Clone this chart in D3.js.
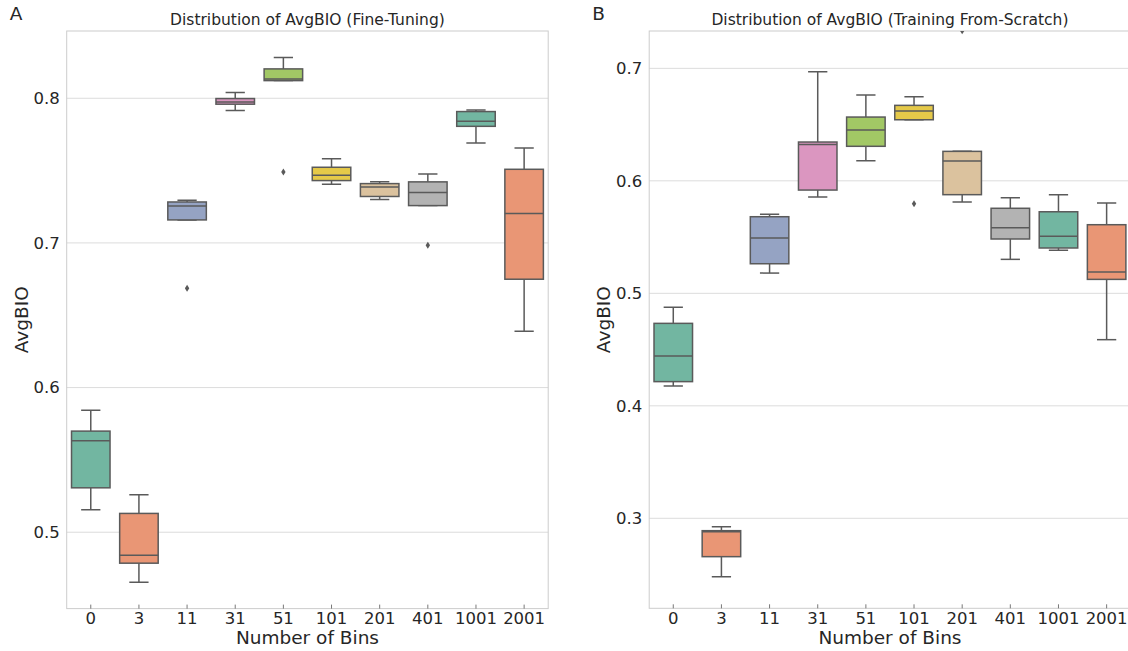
<!DOCTYPE html>
<html>
<head>
<meta charset="utf-8">
<script src="https://cdn.jsdelivr.net/npm/d3@7"></script>
<style>
  body { margin: 0; background: #fff; }
  svg { font-family: "DejaVu Sans", sans-serif; display: block; }
</style>
</head>
<body>
<svg class="fig" width="1128" height="651"></svg>
<script>
var bins = ["0", "3", "11", "31", "51", "101", "201", "401", "1001", "2001"];
var palette = ["#66c2a5", "#fc8d62", "#8da0cb", "#e78ac3", "#a6d854", "#ffd92f", "#e5c494", "#b3b3b3", "#66c2a5", "#fc8d62"];

// fine-tuning: whisker low, q1, median, q3, whisker high
var ftLow  = [0.5155, 0.4655, 0.7159, 0.7915, 0.8122, 0.7406, 0.7300, 0.7258, 0.7691, 0.6390];
var ftQ1   = [0.5307, 0.4786, 0.7159, 0.7959, 0.8122, 0.7431, 0.7321, 0.7258, 0.7806, 0.6749];
var ftMed  = [0.5632, 0.4840, 0.7256, 0.7975, 0.8133, 0.7468, 0.7387, 0.7348, 0.7841, 0.7203];
var ftQ3   = [0.5699, 0.5130, 0.7283, 0.7998, 0.8203, 0.7523, 0.7410, 0.7422, 0.7908, 0.7509];
var ftHigh = [0.5844, 0.5259, 0.7295, 0.8039, 0.8281, 0.7581, 0.7422, 0.7477, 0.7919, 0.7657];
var ftOutliers = [["11", 0.6687], ["51", 0.7491], ["401", 0.6984]];

// training from scratch
var fsLow  = [0.4176, 0.2481, 0.5180, 0.5856, 0.6179, 0.6543, 0.5812, 0.5302, 0.5382, 0.4588];
var fsQ1   = [0.4215, 0.2659, 0.5263, 0.5918, 0.6307, 0.6543, 0.5877, 0.5483, 0.5403, 0.5124];
var fsMed  = [0.4443, 0.2881, 0.5492, 0.6324, 0.6452, 0.6620, 0.6176, 0.5583, 0.5507, 0.5189];
var fsQ3   = [0.4733, 0.2890, 0.5681, 0.6345, 0.6567, 0.6671, 0.6262, 0.5756, 0.5725, 0.5610];
var fsHigh = [0.4876, 0.2925, 0.5702, 0.6970, 0.6763, 0.6748, 0.6262, 0.5850, 0.5877, 0.5803];
var fsOutliers = [["101", 0.5796], ["201", 0.7334]];

var ftTicks = [0.5, 0.6, 0.7, 0.8];
var fsTicks = [0.3, 0.4, 0.5, 0.6, 0.7];

var svg = d3.select(".fig");
var lineCol = "#5a5a5a", textCol = "#262626";

function desat(c) {
  var h = d3.hsl(c);
  h.s = h.s * 0.75;
  return h.formatHex();
}

function panel(o) {
  var x = d3.scaleBand().domain(bins).range([o.x0, o.x1]);
  var y = d3.scaleLinear().domain(o.ydom).range([o.y1, o.y0]);
  var g = svg.append("g");
  var id = "clip" + o.letter;

  g.append("clipPath").attr("id", id).append("rect")
    .attr("x", o.x0).attr("y", o.y0).attr("width", o.x1 - o.x0).attr("height", o.y1 - o.y0);

  // grid
  g.selectAll(".grid").data(o.ticks).enter().append("line")
    .attr("x1", o.x0).attr("x2", o.x1)
    .attr("y1", function(d) { return y(d); }).attr("y2", function(d) { return y(d); })
    .attr("stroke", "#dcdcdc").attr("stroke-width", 1);

  // spines
  g.append("rect").attr("x", o.x0).attr("y", o.y0)
    .attr("width", o.x1 - o.x0).attr("height", o.y1 - o.y0)
    .attr("fill", "none").attr("stroke", "#cccccc").attr("stroke-width", 1);

  // y tick labels
  g.selectAll(".ytl").data(o.ticks).enter().append("text")
    .attr("x", o.x0 - 7).attr("y", function(d) { return y(d); })
    .attr("dy", "0.35em").attr("text-anchor", "end")
    .attr("font-size", 16.5).attr("fill", textCol)
    .text(function(d) { return d3.format(".1f")(d); });

  // x ticks + labels
  var xa = g.append("g");
  xa.selectAll("line").data(bins).enter().append("line")
    .attr("x1", function(d) { return x(d) + x.bandwidth() / 2; })
    .attr("x2", function(d) { return x(d) + x.bandwidth() / 2; })
    .attr("y1", o.y1 - 4).attr("y2", o.y1)
    .attr("stroke", "#555").attr("stroke-width", 0.8);
  xa.selectAll("text").data(bins).enter().append("text")
    .attr("x", function(d) { return x(d) + x.bandwidth() / 2; })
    .attr("y", 618).attr("dy", "0.35em")
    .attr("text-anchor", "middle").attr("font-size", 16.5).attr("fill", textCol)
    .text(String);

  var rows = bins.map(function(b, i) {
    return { bin: b, lo: o.lo[i], q1: o.q1[i], med: o.med[i], q3: o.q3[i], hi: o.hi[i], col: desat(palette[i]) };
  });

  var marks = g.append("g").attr("clip-path", "url(#" + id + ")");
  var bw = x.bandwidth() * 0.8;
  var box = marks.selectAll(".box").data(rows).enter().append("g")
    .attr("transform", function(d) { return "translate(" + (x(d.bin) + x.bandwidth() / 2) + ",0)"; });

  box.append("line").attr("x1", 0).attr("x2", 0)
    .attr("y1", function(d) { return y(d.hi); }).attr("y2", function(d) { return y(d.q3); })
    .attr("stroke", lineCol).attr("stroke-width", 1.5);
  box.append("line").attr("x1", 0).attr("x2", 0)
    .attr("y1", function(d) { return y(d.q1); }).attr("y2", function(d) { return y(d.lo); })
    .attr("stroke", lineCol).attr("stroke-width", 1.5);
  box.append("line").attr("x1", -bw / 4).attr("x2", bw / 4)
    .attr("y1", function(d) { return y(d.hi); }).attr("y2", function(d) { return y(d.hi); })
    .attr("stroke", lineCol).attr("stroke-width", 1.5);
  box.append("line").attr("x1", -bw / 4).attr("x2", bw / 4)
    .attr("y1", function(d) { return y(d.lo); }).attr("y2", function(d) { return y(d.lo); })
    .attr("stroke", lineCol).attr("stroke-width", 1.5);
  box.append("rect").attr("x", -bw / 2).attr("width", bw)
    .attr("y", function(d) { return y(d.q3); })
    .attr("height", function(d) { return y(d.q1) - y(d.q3); })
    .attr("fill", function(d) { return d.col; })
    .attr("stroke", lineCol).attr("stroke-width", 1.5);
  box.append("line").attr("x1", -bw / 2).attr("x2", bw / 2)
    .attr("y1", function(d) { return y(d.med); }).attr("y2", function(d) { return y(d.med); })
    .attr("stroke", lineCol).attr("stroke-width", 1.5);

  // outliers (thin diamonds)
  marks.selectAll(".fl").data(o.out).enter().append("path")
    .attr("transform", function(d) { return "translate(" + (x(d[0]) + x.bandwidth() / 2) + "," + y(d[1]) + ")"; })
    .attr("d", "M0,-3.5L2.2,0L0,3.5L-2.2,0Z")
    .attr("fill", lineCol);

  // titles and labels
  g.append("text").attr("x", (o.x0 + o.x1) / 2).attr("y", 25)
    .attr("text-anchor", "middle").attr("font-size", 15.5).attr("fill", textCol)
    .text(o.title);
  g.append("text").attr("x", (o.x0 + o.x1) / 2).attr("y", 644)
    .attr("text-anchor", "middle").attr("font-size", 18.5).attr("fill", textCol)
    .text("Number of Bins");
  g.append("text")
    .attr("transform", "translate(" + (o.x0 - 39) + "," + ((o.y0 + o.y1) / 2) + ") rotate(-90)")
    .attr("text-anchor", "middle").attr("font-size", 18.5).attr("fill", textCol)
    .text("AvgBIO");
  g.append("text").attr("x", o.x0 - 57).attr("y", 20)
    .attr("font-size", 18.5).attr("fill", textCol).text(o.letter);
}

panel({
  letter: "A", title: "Distribution of AvgBIO (Fine-Tuning)",
  x0: 66.7, x1: 548.2, y0: 31, y1: 608.6, ydom: [0.4472, 0.8465], ticks: ftTicks,
  lo: ftLow, q1: ftQ1, med: ftMed, q3: ftQ3, hi: ftHigh, out: ftOutliers
});
panel({
  letter: "B", title: "Distribution of AvgBIO (Training From-Scratch)",
  x0: 649.2, x1: 1130.7, y0: 31, y1: 608.3, ydom: [0.22, 0.7332], ticks: fsTicks,
  lo: fsLow, q1: fsQ1, med: fsMed, q3: fsQ3, hi: fsHigh, out: fsOutliers
});
</script>
</body>
</html>
